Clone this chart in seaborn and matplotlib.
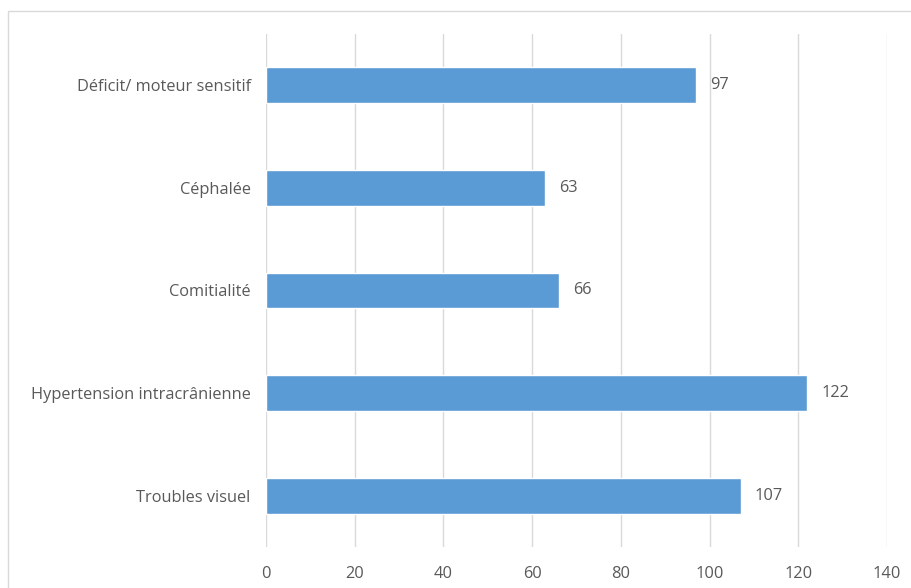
import matplotlib
matplotlib.use("Agg")
import matplotlib.pyplot as plt
from matplotlib.patches import Rectangle
import seaborn as sns
import pandas as pd

categories = ["Déficit/ moteur sensitif", "Céphalée", "Comitialité",
              "Hypertension intracrânienne", "Troubles visuel"]
values = [97, 63, 66, 122, 107]
x_ticks = [0, 20, 40, 60, 80, 100, 120, 140]

sns.set_theme(style="white")
plt.rcParams["font.family"] = ["Open Sans", "DejaVu Sans"]

W, H = 912, 588
fig = plt.figure(figsize=(W / 100, H / 100), dpi=100)
ax = fig.add_axes([266 / W, 1 - 547 / H, (887 - 266) / W, (547 - 34) / H])

df = pd.DataFrame({"cat": categories, "val": values})
sns.barplot(data=df, x="val", y="cat", orient="h", color="#5B9BD5",
            saturation=1, width=0.35, ax=ax, zorder=3)

text_color = "#595959"
fs = 11.8
ax.set_xlim(0, 140)
ax.set_ylim(len(categories) - 0.5, -0.5)
ax.set_xticks(x_ticks)
ax.set_xticklabels([str(t) for t in x_ticks])
ax.xaxis.grid(True, color="#D9D9D9", linewidth=1, zorder=0)
ax.yaxis.grid(False)
for s in ax.spines.values():
    s.set_visible(False)
ax.tick_params(axis="x", length=0, pad=14, labelsize=fs, labelcolor=text_color)
ax.tick_params(axis="y", length=0, pad=11, labelsize=fs, labelcolor=text_color)
ax.set_xlabel("")
ax.set_ylabel("")

for i, v in enumerate(values):
    ax.annotate(str(v), (v, i), xytext=(10, 0), textcoords="offset points",
                va="center", ha="left", fontsize=fs, color=text_color)

# chart area frame
fig.patches.append(Rectangle((8 / W, -0.1), 1.2, 1 - 11 / H + 0.1,
                             transform=fig.transFigure, fill=False,
                             edgecolor="#D9D9D9", linewidth=1))

fig.savefig("out.png", dpi=100, facecolor="white")
